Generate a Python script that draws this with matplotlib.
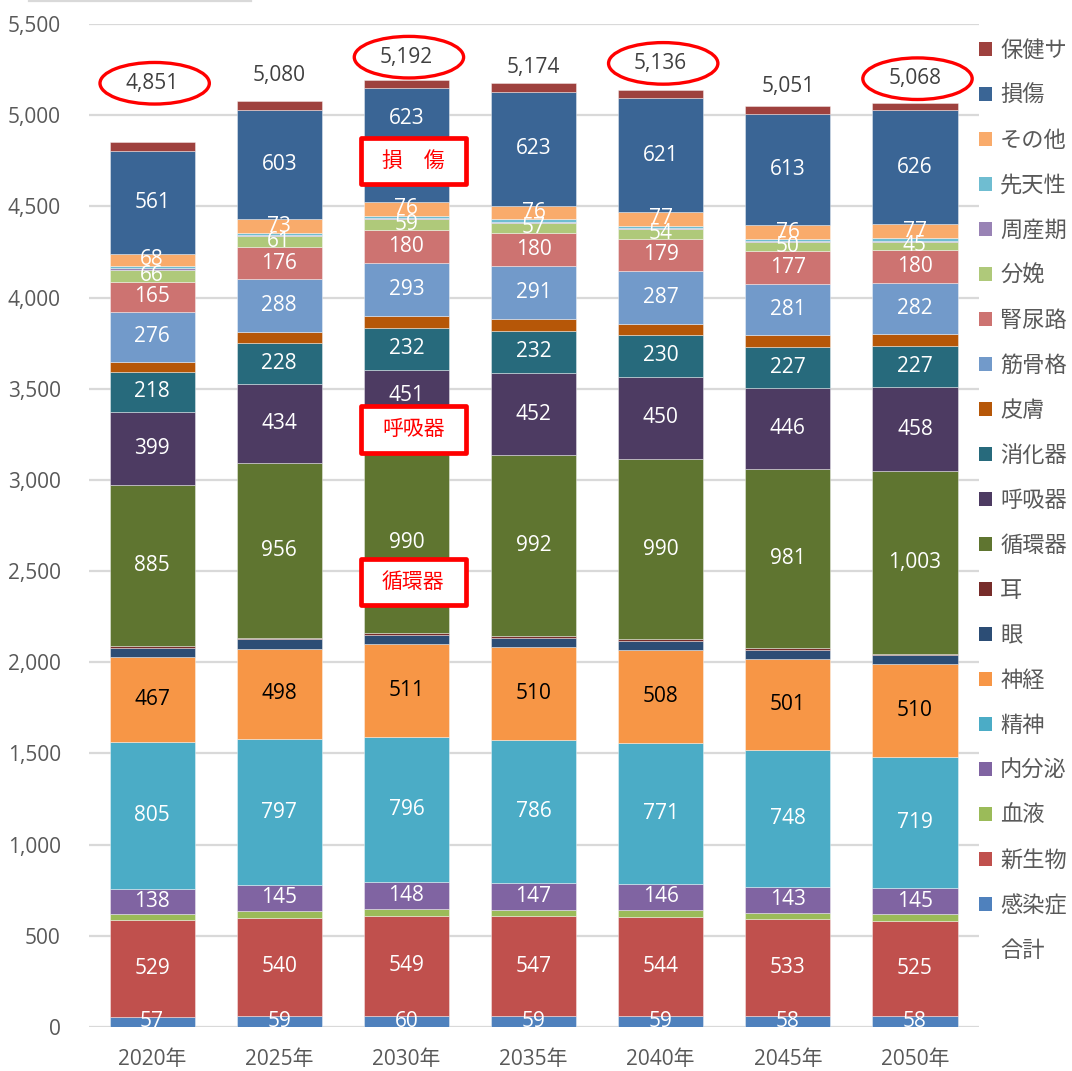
import matplotlib
matplotlib.use("Agg")
import matplotlib.pyplot as plt
from matplotlib.patches import Ellipse, Rectangle, Patch
from matplotlib.lines import Line2D
import numpy as np

plt.rcParams['font.family'] = ['Open Sans', 'Noto Sans CJK JP', 'DejaVu Sans']

# --- DATA ---
years = ['2020年', '2025年', '2030年', '2035年', '2040年', '2045年', '2050年']

感染症 = [57, 59, 60, 59, 59, 58, 58]
新生物 = [529, 540, 549, 547, 544, 533, 525]
血液 = [35, 36, 38, 37, 37, 36, 35]
内分泌 = [138, 145, 148, 147, 146, 143, 145]
精神 = [805, 797, 796, 786, 771, 748, 719]
神経 = [467, 498, 511, 510, 508, 501, 510]
眼 = [48, 50, 50, 46, 51, 48, 47]
耳 = [10, 10, 10, 10, 10, 10, 8]
循環器 = [885, 956, 990, 992, 990, 981, 1003]
呼吸器 = [399, 434, 451, 452, 450, 446, 458]
消化器 = [218, 228, 232, 232, 230, 227, 227]
皮膚 = [55, 58, 62, 64, 61, 64, 65]
筋骨格 = [276, 288, 293, 291, 287, 281, 282]
腎尿路 = [165, 176, 180, 180, 179, 177, 180]
分娩 = [66, 61, 59, 57, 54, 50, 45]
周産期 = [8, 7, 7, 6, 5, 5, 5]
先天性 = [12, 12, 12, 12, 12, 12, 13]
その他 = [68, 73, 76, 76, 77, 76, 77]
損傷 = [561, 603, 623, 623, 621, 613, 626]
保健サ = [49, 49, 45, 47, 44, 42, 40]
合計 = [4851, 5080, 5192, 5174, 5136, 5051, 5068]

# series in stacking order (bottom -> top)
series = [
    ('感染症', 感染症, '#4F81BD'),
    ('新生物', 新生物, '#C0504D'),
    ('血液', 血液, '#9BBB59'),
    ('内分泌', 内分泌, '#8064A2'),
    ('精神', 精神, '#4BACC6'),
    ('神経', 神経, '#F79646'),
    ('眼', 眼, '#2C4D75'),
    ('耳', 耳, '#772C2A'),
    ('循環器', 循環器, '#5F7530'),
    ('呼吸器', 呼吸器, '#4D3B62'),
    ('消化器', 消化器, '#276A7C'),
    ('皮膚', 皮膚, '#B65708'),
    ('筋骨格', 筋骨格, '#729ACA'),
    ('腎尿路', 腎尿路, '#CD7371'),
    ('分娩', 分娩, '#AFC97A'),
    ('周産期', 周産期, '#9983B5'),
    ('先天性', 先天性, '#6FBDD1'),
    ('その他', その他, '#F9AB6B'),
    ('損傷', 損傷, '#3A6595'),
    ('保健サ', 保健サ, '#9E413E'),
]
labelled = {'感染症', '新生物', '内分泌', '精神', '神経', '循環器', '呼吸器',
            '消化器', '筋骨格', '腎尿路', '分娩', 'その他', '損傷'}

# --- LAYOUT / STYLE ---
total_label_lift = [324, 137, 126, 88, 148, 104, 132]   # data units above bar top
circled = [0, 2, 4, 6]
label_nudge = {('損傷', 2): 19, ('呼吸器', 2): 11.5}    # points, moved clear of boxes
grey = '#595959'
jp = ['Noto Sans CJK JP', 'DejaVu Sans']

fig = plt.figure(figsize=(10.72, 10.71), dpi=100)
ax = fig.add_axes([0.0826, 0.0411, 0.8302, 0.9365])

x = np.arange(len(years))
width = 0.67
bottom = np.zeros(len(years))

for name, vals, color in series:
    vals = np.array(vals, dtype=float)
    bars = ax.bar(x, vals, width, bottom=bottom, color=color,
                  edgecolor=(1, 1, 1, 0.45), linewidth=0.6, label=name, zorder=2)
    if name in labelled:
        txt_color = 'black' if name == '神経' else 'white'
        for i in range(len(years)):
            ax.annotate(f'{int(vals[i]):,}', (x[i], bottom[i] + vals[i] / 2),
                        xytext=(0, label_nudge.get((name, i), 0)),
                        textcoords='offset points', ha='center', va='center',
                        fontsize=15, color=txt_color, zorder=5)
    bottom += vals

# totals above bars
for i, tot in enumerate(合計):
    ty = tot + total_label_lift[i]
    ax.text(x[i], ty, f'{tot:,}', ha='center', va='center', fontsize=15,
            color='#404040', zorder=5)
    if i in circled:
        ax.add_patch(Ellipse((x[i] + 0.02, ty), 0.86, 228, fill=False,
                             edgecolor='#FF0000', linewidth=2.4, zorder=6))

# red call-out boxes on the 2030 bar
for label, yc in [('損\u3000傷', 4748), ('呼吸器', 3278), ('循環器', 2440)]:
    ax.add_patch(Rectangle((x[2] + 0.055 - 0.415, yc - 128), 0.83, 256,
                           facecolor='white', edgecolor='#FF0000',
                           linewidth=3.4, joinstyle='round', zorder=7))
    ax.text(x[2] + 0.055, yc, label, ha='center', va='center', fontsize=15,
            color='#FF0000', family=jp, zorder=8)

ax.set_xlim(-0.5, len(years) - 0.5)
ax.set_ylim(0, 5500)
ax.set_yticks(np.arange(0, 5501, 500))
ax.set_yticklabels([f'{v:,}' for v in range(0, 5501, 500)])
ax.set_xticks(x)
ax.set_xticklabels(years)
ax.tick_params(axis='y', length=0, pad=20, labelsize=15, labelcolor=grey)
ax.tick_params(axis='x', length=0, pad=16, labelsize=15, labelcolor=grey)
ax.grid(axis='y', color='#D9D9D9', linewidth=1.6, zorder=0)
ax.set_axisbelow(True)
for s in ax.spines.values():
    s.set_visible(False)

# legend (top of stack first), plus the unmarked total entry
handles = [Patch(facecolor=c, edgecolor='none') for _, _, c in series][::-1]
names = [n for n, _, _ in series][::-1]
handles.append(Patch(facecolor='none', edgecolor='none'))
names.append('合計')
fig.legend(handles, names, loc='upper left', bbox_to_anchor=(0.905, 0.972),
           frameon=False, labelcolor=grey,
           handlelength=0.6, handleheight=0.6, handletextpad=0.35,
           labelspacing=0.99, borderaxespad=0,
           prop={'family': jp, 'size': 16})

fig.add_artist(Line2D([0.027, 0.234], [0.9995, 0.9995], color='#D9D9D9', linewidth=1.6))

fig.savefig('out.png', dpi=100)
